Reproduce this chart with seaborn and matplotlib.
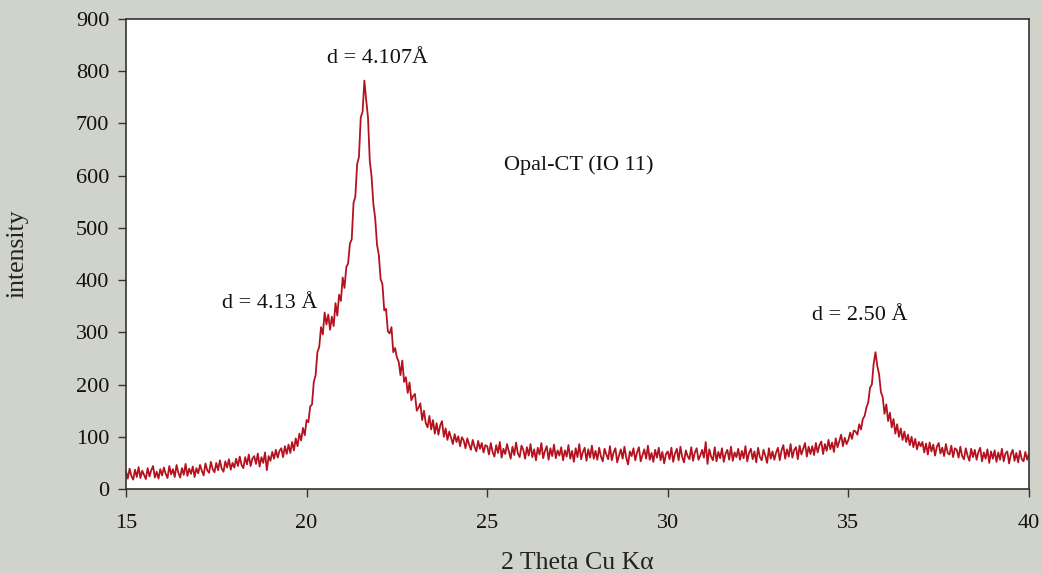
import numpy as np
import pandas as pd
import matplotlib
matplotlib.use("Agg")
import matplotlib.pyplot as plt
import seaborn as sns

# scan grid (step scan, 0.05 deg 2theta)
scan_start = 15.0
scan_step = 0.05

# intensities, one list per degree
int_15 = [34, 20, 39, 25, 18, 37, 23, 42, 21, 35, 27, 19, 40, 24, 36, 44, 22, 33, 20, 38]
int_16 = [26, 41, 29, 21, 44, 28, 38, 23, 46, 31, 22, 40, 27, 48, 25, 39, 29, 43, 23, 40]
int_17 = [30, 46, 35, 26, 49, 36, 31, 52, 38, 32, 50, 36, 55, 39, 33, 53, 41, 57, 37, 50]
int_18 = [41, 58, 44, 62, 46, 40, 61, 47, 66, 44, 58, 63, 48, 68, 43, 61, 50, 70, 36, 63]
int_19 = [54, 71, 58, 75, 60, 73, 78, 61, 82, 67, 85, 69, 90, 74, 97, 82, 106, 93, 117, 103]
int_20 = [132, 128, 158, 162, 205, 218, 262, 272, 310, 296, 338, 315, 334, 305, 330, 312, 356, 332, 372, 360]
int_21 = [405, 385, 425, 432, 470, 478, 548, 560, 622, 636, 712, 722, 782, 745, 712, 628, 598, 545, 518, 468]
int_22 = [448, 402, 392, 342, 345, 302, 298, 310, 262, 270, 252, 244, 218, 246, 205, 214, 184, 204, 170, 178]
int_23 = [182, 150, 156, 164, 132, 150, 126, 118, 140, 114, 132, 106, 126, 104, 122, 130, 100, 116, 94, 110]
int_24 = [98, 86, 105, 90, 101, 82, 99, 93, 78, 97, 85, 75, 94, 81, 72, 92, 77, 88, 70, 84]
int_25 = [82, 66, 88, 71, 62, 84, 69, 90, 60, 77, 67, 86, 72, 58, 81, 65, 89, 68, 61, 83]
int_26 = [75, 58, 80, 64, 86, 61, 76, 55, 79, 66, 88, 59, 73, 82, 56, 78, 63, 85, 59, 74]
int_27 = [64, 80, 55, 74, 62, 84, 58, 73, 52, 78, 61, 86, 57, 71, 79, 54, 76, 60, 83, 58]
int_28 = [73, 56, 79, 62, 53, 77, 66, 57, 82, 55, 70, 78, 51, 64, 76, 58, 81, 60, 47, 72]
int_29 = [63, 78, 55, 70, 80, 53, 65, 76, 58, 83, 56, 69, 52, 75, 60, 79, 55, 71, 49, 67]
int_30 = [72, 57, 79, 52, 68, 77, 55, 81, 61, 51, 74, 63, 57, 80, 54, 70, 78, 56, 64, 75]
int_31 = [60, 90, 48, 76, 62, 55, 80, 53, 71, 59, 78, 52, 68, 75, 56, 81, 54, 70, 61, 77]
int_32 = [56, 73, 59, 82, 53, 69, 77, 57, 72, 51, 79, 61, 55, 75, 64, 50, 78, 58, 72, 56]
int_33 = [70, 79, 55, 74, 84, 58, 76, 62, 86, 60, 75, 80, 57, 83, 66, 77, 88, 62, 81, 67]
int_34 = [82, 65, 88, 70, 84, 91, 67, 86, 73, 94, 76, 89, 71, 97, 80, 92, 104, 82, 98, 86]
int_35 = [94, 108, 96, 112, 110, 104, 124, 114, 134, 140, 156, 166, 194, 200, 240, 262, 236, 220, 186, 176]
int_36 = [144, 162, 130, 146, 118, 134, 106, 124, 100, 116, 94, 110, 90, 104, 84, 100, 80, 96, 76, 90]
int_37 = [82, 90, 70, 87, 66, 89, 72, 85, 64, 81, 88, 68, 79, 63, 86, 69, 66, 83, 61, 78]
int_38 = [75, 60, 81, 63, 57, 78, 64, 54, 77, 61, 75, 56, 71, 79, 53, 70, 58, 76, 50, 72]
int_39 = [58, 74, 52, 70, 56, 77, 53, 68, 72, 49, 67, 75, 54, 69, 51, 73, 57, 53, 71, 56]
int_40 = [68]

# peak labels: (text, 2theta, intensity)
labels = ["d = 4.107Å", "d = 4.13 Å", "d = 2.50 Å", "Opal-CT (IO 11)"]
label_x = [21.95, 18.99, 35.32, 27.54]
label_y = [825, 356, 333, 620]

intensity = (int_15 + int_16 + int_17 + int_18 + int_19 + int_20 + int_21 + int_22
             + int_23 + int_24 + int_25 + int_26 + int_27 + int_28 + int_29 + int_30
             + int_31 + int_32 + int_33 + int_34 + int_35 + int_36 + int_37 + int_38
             + int_39 + int_40)
two_theta = np.round(scan_start + scan_step * np.arange(len(intensity)), 2)
df = pd.DataFrame({"two_theta": two_theta, "intensity": intensity})

sns.set_theme(style="ticks")
plt.rcParams['font.family'] = ['Liberation Serif', 'DejaVu Serif']

bg = '#D0D3CA'
line_col = '#B5121F'

fig = plt.figure(figsize=(10.42, 5.73), dpi=100, facecolor=bg)
ax = fig.add_axes([0.1209, 0.1466, 0.8666, 0.8202])
ax.set_facecolor('white')

sns.lineplot(data=df, x="two_theta", y="intensity", color=line_col, linewidth=1.3, ax=ax)

ax.set_xlim(15, 40)
ax.set_ylim(0, 900)
ax.set_xticks([15, 20, 25, 30, 35, 40])
ax.set_yticks(range(0, 901, 100))
ax.tick_params(axis='both', direction='out', length=6, width=1, color='#333333',
               labelsize=16, labelcolor='#111111')
ax.tick_params(axis='x', pad=12)
ax.tick_params(axis='y', pad=6)
for s in ax.spines.values():
    s.set_visible(True)
    s.set_color('#333333')
    s.set_linewidth(1.2)

ax.set_xlabel('2 Theta Cu Kα', fontsize=18.5, color='#222222', labelpad=14)
ax.set_ylabel('intensity', fontsize=18.5, color='#222222', labelpad=34)

for t, xx, yy in zip(labels, label_x, label_y):
    ax.text(xx, yy, t, fontsize=16, ha='center', va='center', color='#111111')

fig.savefig('out.png', dpi=100, facecolor=bg)
